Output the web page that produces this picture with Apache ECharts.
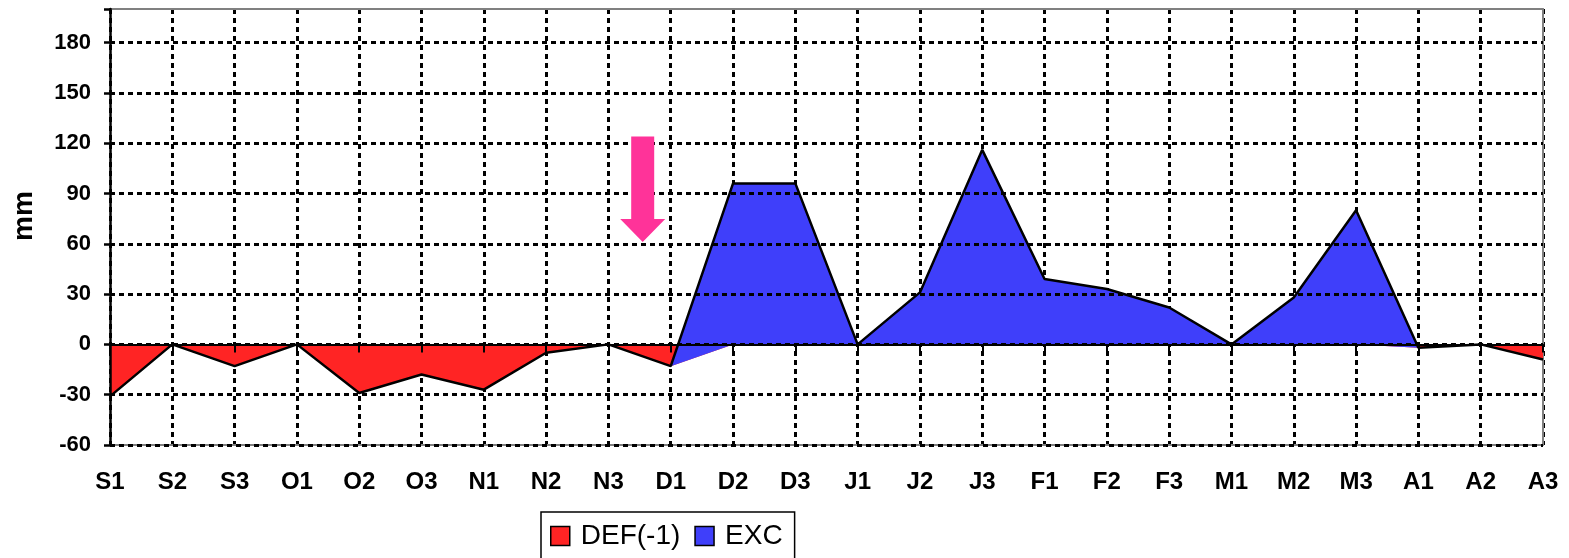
<!DOCTYPE html>
<html><head><meta charset="utf-8">
<script src="https://cdn.jsdelivr.net/npm/echarts@6/dist/echarts.min.js"></script>
<style>html,body{margin:0;padding:0;background:#fff}#c{width:1569px;height:558px}</style>
</head><body><div id="c"></div>
<script>
const categories = ['S1','S2','S3','O1','O2','O3','N1','N2','N3','D1','D2','D3','J1','J2','J3','F1','F2','F3','M1','M2','M3','A1','A2','A3'];
const defValues = [-31,0,-13,0,-29,-18,-27,-5,0,-13,0,0,0,0,0,0,0,0,0,0,0,-2,0,-9];
const excValues = [0,0,0,0,0,0,0,0,0,0,96,96,0,31,116,39,33,22,0,28,80,0,0,0];
const yMin = -60, yMax = 200, yStep = 30;
// arrow annotation: [category index, fraction toward next category, top value, tip value]
const arrowMark = [8, 0.55, 124, 61];

const RED = '#FF2424';
const BLUE = '#3F3FFA';
const FONT = 'Liberation Sans, Arial, sans-serif';
const dashed = {color:'#000', width:3, type:[5,4]};
const frame = {show:true, onZero:false, lineStyle:{color:'#808080', width:2}};

const chart = echarts.init(document.getElementById('c'), null, {renderer:'canvas'});
chart.setOption({
  animation:false,
  backgroundColor:'#fff',
  grid:{left:110, top:9, right:26, bottom:113},
  xAxis:[
    {type:'category', data:categories, boundaryGap:false, position:'bottom',
     axisLine:{show:true, onZero:false, lineStyle:{color:'#808080', width:2}}, axisTick:{show:false},
     axisLabel:{show:true, margin:25, fontFamily:FONT, fontSize:24, fontWeight:'bold', color:'#000', interval:0},
     splitLine:{show:true, interval:0, lineStyle:dashed}},
    {type:'category', data:categories, boundaryGap:false, position:'bottom', z:3,
     axisLine:{show:true, onZero:true, lineStyle:{color:'#000', width:2}},
     axisTick:{show:true, length:8, interval:0, lineStyle:{color:'#000', width:2}},
     axisLabel:{show:false}, splitLine:{show:false}},
    {type:'category', data:categories, boundaryGap:false, position:'top',
     axisLine:frame, axisTick:{show:false}, axisLabel:{show:false}, splitLine:{show:false}}
  ],
  yAxis:[
    {type:'value', min:yMin, max:yMax, interval:yStep, z:3,
     axisLine:{show:true, onZero:false, lineStyle:{color:'#000', width:2.5}},
     axisTick:{show:true, length:6, lineStyle:{color:'#000', width:2.5}},
     axisLabel:{margin:19, fontFamily:FONT, fontSize:22, fontWeight:'bold', color:'#000',
       formatter:function(v){ return (v - yMin) % yStep === 0 ? String(v) : ''; }},
     splitLine:{show:true, showMaxLine:false, lineStyle:dashed}},
    {type:'value', min:yMin, max:yMax, interval:yStep, position:'right',
     axisLine:frame, axisTick:{show:false}, axisLabel:{show:false}, splitLine:{show:false}}
  ],
  legend:{
    data:[
      {name:'DEF(-1)', itemStyle:{color:RED, borderColor:'#000', borderWidth:1.5}},
      {name:'EXC', itemStyle:{color:BLUE, borderColor:'#000', borderWidth:1.5}}
    ],
    left:541, top:512, icon:'rect', itemWidth:19, itemHeight:19, itemGap:14,
    borderColor:'#000', borderWidth:1.5, padding:[10,12,14,9],
    textStyle:{fontFamily:FONT, fontSize:28, color:'#000', padding:[0,0,0,6]}
  },
  graphic:[{type:'text', x:24, y:216, rotation:Math.PI/2,
    style:{text:'mm', font:'bold 28px ' + FONT, fill:'#000', textAlign:'center', textVerticalAlign:'middle'}}],
  series:[
    {name:'DEF(-1)', type:'line', stack:'t', stackStrategy:'all', data:defValues, symbol:'none',
     lineStyle:{opacity:0, width:0}, areaStyle:{color:RED, opacity:1}, itemStyle:{color:RED}, z:2},
    {name:'EXC', type:'line', stack:'t', stackStrategy:'all', data:excValues, symbol:'none',
     lineStyle:{color:'#000', width:2.5}, areaStyle:{color:BLUE, opacity:1}, itemStyle:{color:BLUE}, z:2},
    {type:'custom', silent:true, z:5, data:[arrowMark],
     renderItem:function(params, api){
       const idx = api.value(0), frac = api.value(1);
       const a = api.coord([idx, api.value(2)]);
       const b = api.coord([idx + 1, api.value(2)]);
       const tip = api.coord([idx, api.value(3)]);
       const cx = a[0] + (b[0]-a[0])*frac;
       const sh = 11.5, hh = 22.5, hl = 23;
       const pts = [[cx-sh,a[1]],[cx+sh,a[1]],[cx+sh,tip[1]-hl],[cx+hh,tip[1]-hl],[cx,tip[1]],[cx-hh,tip[1]-hl],[cx-sh,tip[1]-hl]];
       return {type:'polygon', shape:{points:pts}, style:{fill:'#FF3399'}};
     }}
  ]
});
</script>
</body></html>
